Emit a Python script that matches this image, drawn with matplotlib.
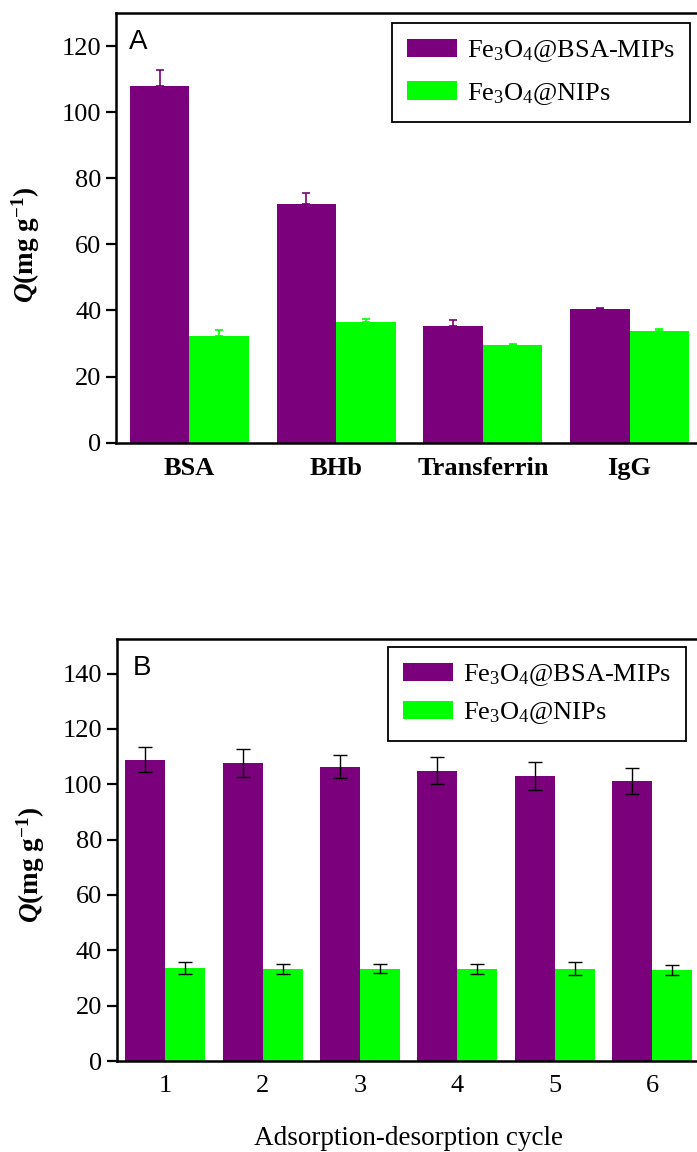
import numpy as np
import matplotlib
matplotlib.use("Agg")
import matplotlib.pyplot as plt

plt.rcParams['font.family'] = ['Liberation Serif', 'DejaVu Serif']
plt.rcParams['mathtext.fontset'] = 'custom'
plt.rcParams['mathtext.rm'] = 'Liberation Serif'
plt.rcParams['mathtext.it'] = 'Liberation Serif:italic'
plt.rcParams['mathtext.bf'] = 'Liberation Serif:bold'
plt.rcParams['mathtext.bfit'] = 'Liberation Serif:italic:bold'

# Panel A: selectivity
proteins = ['BSA', 'BHb', 'Transferrin', 'IgG']
mip_a = [107.8, 72.3, 35.3, 40.3]
mip_a_err = [5.0, 3.2, 1.8, 0.6]
nip_a = [32.2, 36.6, 29.5, 33.8]
nip_a_err = [1.8, 0.8, 0.3, 0.5]

# Panel B: reusability
cycles = [1, 2, 3, 4, 5, 6]
mip_b = [108.9, 107.6, 106.4, 104.9, 102.9, 101.3]
mip_b_err = [4.4, 5.0, 4.2, 4.8, 5.0, 4.7]
nip_b = [33.5, 33.3, 33.3, 33.3, 33.3, 32.9]
nip_b_err = [2.1, 1.9, 1.6, 1.7, 2.3, 1.7]

purple = '#7B007B'
green = '#00FF00'
lab_mip = r'Fe$_3$O$_4$@BSA-MIPs'
lab_nip = r'Fe$_3$O$_4$@NIPs'
ylab = r'$\mathbfit{Q}$(mg g$^{\mathbf{-1}}$)'

fig = plt.figure(figsize=(6.97, 11.52), dpi=100)
W, H = 697, 1152


def style(ax):
    for s in ax.spines.values():
        s.set_linewidth(1.8)
    ax.tick_params(axis='both', direction='out', length=7, width=1.6, labelsize=19)
    ax.tick_params(axis='x', length=0, pad=10)


def legend(ax, right, top, spacing):
    leg = ax.legend(loc='upper right', bbox_to_anchor=(right / W, 1 - top / H),
                    bbox_transform=fig.transFigure, borderaxespad=0, fontsize=19,
                    fancybox=False, edgecolor='black', framealpha=1,
                    handlelength=1.9, handleheight=0.72, labelspacing=spacing,
                    borderpad=0.58, handletextpad=0.35)
    leg.get_frame().set_linewidth(1.3)
    return leg


# ---- panel A ----
ax1 = fig.add_axes([116 / W, 1 - 442.7 / H, 587 / W, 429.7 / H])
x = np.arange(len(proteins))
bw = 0.405
ax1.bar(x - bw / 2, mip_a, bw, color=purple, label=lab_mip,
        yerr=[np.zeros(len(x)), mip_a_err], ecolor=purple,
        error_kw=dict(capsize=3, elinewidth=1.2, capthick=1.2))
ax1.bar(x + bw / 2, nip_a, bw, color=green, label=lab_nip,
        yerr=[np.zeros(len(x)), nip_a_err], ecolor=green,
        error_kw=dict(capsize=3, elinewidth=1.2, capthick=1.2))
ax1.set_xlim(-0.5, 3.5)
ax1.set_ylim(0, 130)
ax1.set_yticks(np.arange(0, 121, 20))
ax1.set_xticks(x)
ax1.set_xticklabels(proteins, fontweight='bold')
style(ax1)
ax1.set_ylabel(ylab, fontsize=19.5, fontweight='bold')
ax1.yaxis.set_label_coords(-0.126, 0.46)
ax1.text(0.022, 0.932, 'A', transform=ax1.transAxes, fontsize=20,
         family='Liberation Sans', va='center', ha='left')
legend(ax1, 690, 23, 0.62)

# ---- panel B ----
ax2 = fig.add_axes([116.7 / W, 1 - 1061 / H, 584 / W, 422 / H])
cx = np.array(cycles)
bw2 = 0.41
ax2.bar(cx - bw2 / 2, mip_b, bw2, color=purple, label=lab_mip,
        yerr=mip_b_err, ecolor='black',
        error_kw=dict(capsize=5, elinewidth=1.0, capthick=1.0))
ax2.bar(cx + bw2 / 2, nip_b, bw2, color=green, label=lab_nip,
        yerr=nip_b_err, ecolor='black',
        error_kw=dict(capsize=5, elinewidth=1.0, capthick=1.0))
ax2.set_xlim(0.5, 6.5)
ax2.set_ylim(0, 152.5)
ax2.set_yticks(np.arange(0, 141, 20))
ax2.set_xticks(cx)
style(ax2)
ax2.set_ylabel(ylab, fontsize=19.5, fontweight='bold')
ax2.yaxis.set_label_coords(-0.119, 0.465)
ax2.set_xlabel('Adsorption-desorption cycle', fontsize=19.5)
ax2.xaxis.set_label_coords((408 - 116.7) / 584, -(1126 - 1061) / 422)
ax2.text(0.028, 0.931, 'B', transform=ax2.transAxes, fontsize=20,
         family='Liberation Sans', va='center', ha='left')
legend(ax2, 686, 647, 0.45)

fig.savefig('out.png', dpi=100)
